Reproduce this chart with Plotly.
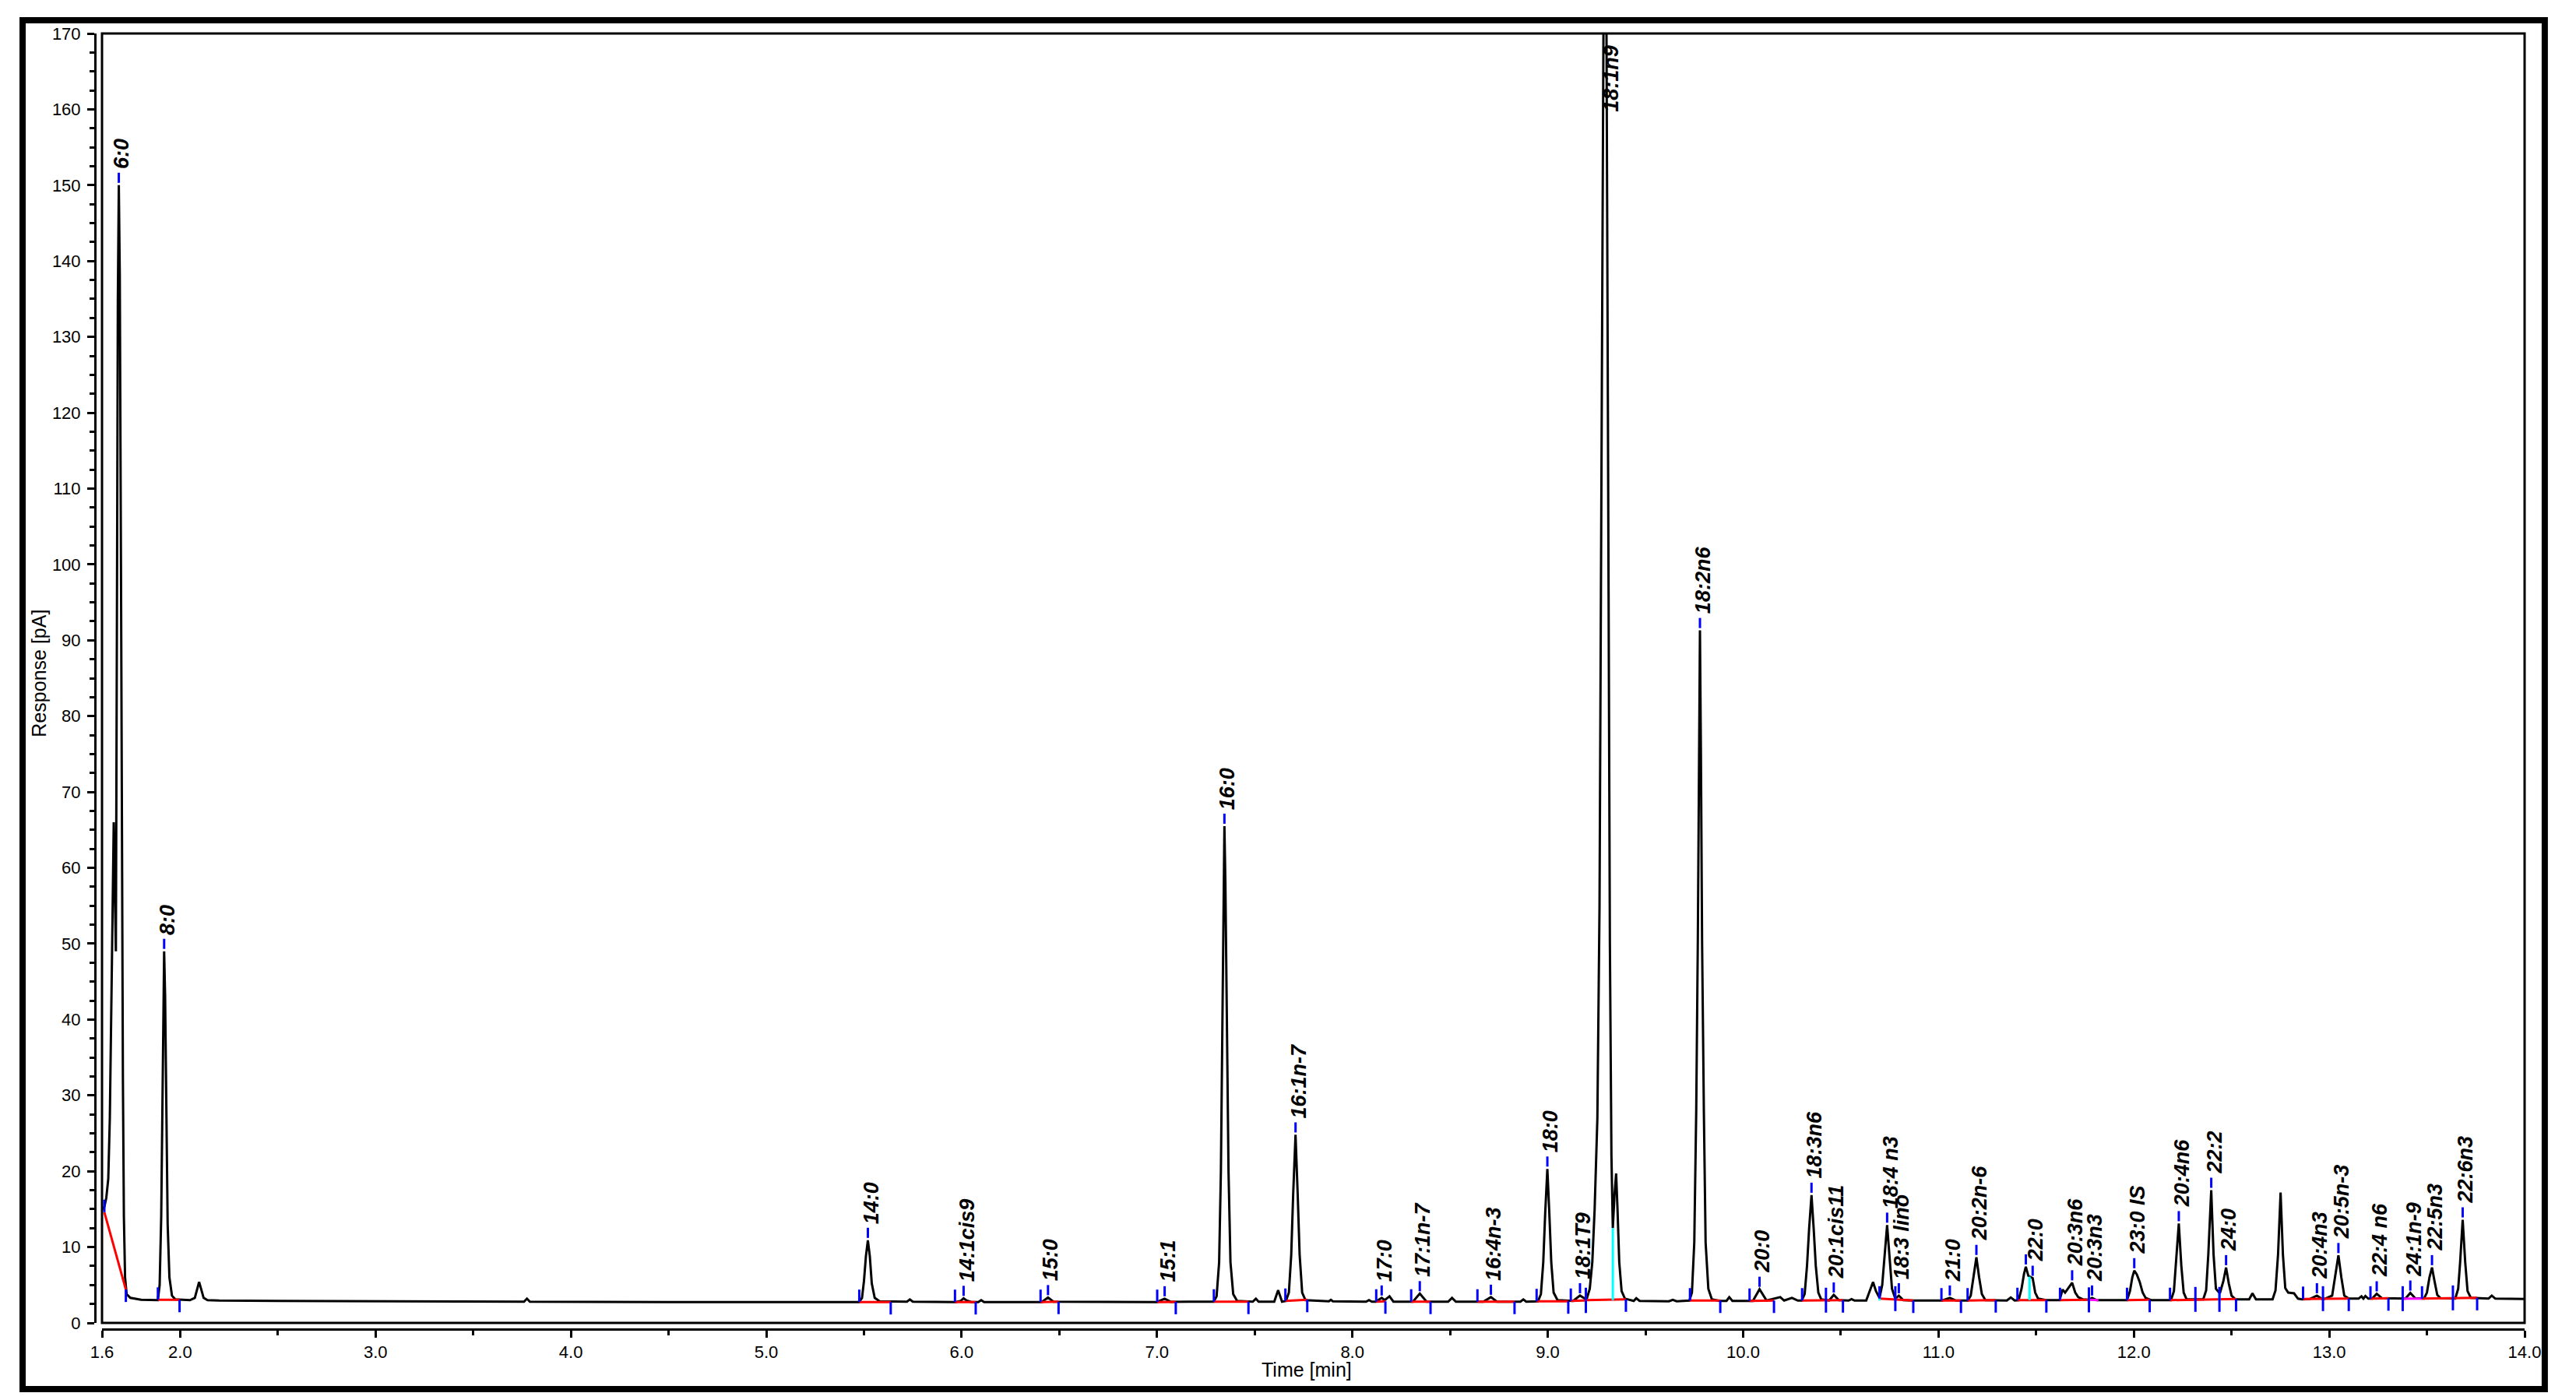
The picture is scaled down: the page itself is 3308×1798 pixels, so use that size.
import plotly.graph_objects as go

# chromatogram signal (time in min, response in pA)
trace_time = [
    1.600, 1.612, 1.622, 1.632, 1.640, 1.647, 1.653, 1.660, 1.666, 1.671,
    1.676, 1.681, 1.686, 1.691, 1.697, 1.702, 1.707, 1.712, 1.718, 1.726,
    1.745, 1.800, 1.886, 1.895, 1.903, 1.909, 1.914, 1.918, 1.923, 1.929,
    1.936, 1.945, 1.958, 1.975, 2.050, 2.075, 2.088, 2.097, 2.107, 2.120,
    2.140, 2.200, 2.500, 3.000, 3.760, 3.775, 3.790, 4.500, 5.475, 5.490,
    5.500, 5.510, 5.520, 5.530, 5.540, 5.555, 5.580, 5.720, 5.735, 5.750,
    5.970, 5.995, 6.010, 6.025, 6.050, 6.085, 6.100, 6.115, 6.410, 6.442,
    6.470, 7.000, 7.039, 7.070, 7.290, 7.305, 7.318, 7.327, 7.335, 7.341,
    7.345, 7.350, 7.357, 7.366, 7.376, 7.390, 7.410, 7.490, 7.506, 7.520,
    7.600, 7.620, 7.640, 7.660, 7.675, 7.687, 7.697, 7.709, 7.720, 7.730,
    7.743, 7.760, 7.880, 7.890, 7.900, 8.070, 8.085, 8.100, 8.120, 8.150,
    8.165, 8.190, 8.210, 8.310, 8.345, 8.380, 8.490, 8.510, 8.530, 8.670,
    8.709, 8.740, 8.860, 8.875, 8.890, 8.950, 8.965, 8.977, 8.987, 8.998,
    9.008, 9.018, 9.030, 9.050, 9.130, 9.165, 9.190, 9.200, 9.215, 9.228,
    9.240, 9.254, 9.265, 9.275, 9.284, 9.292, 9.300, 9.309, 9.318, 9.326,
    9.333, 9.342, 9.350, 9.357, 9.366, 9.378, 9.395, 9.440, 9.453, 9.470,
    9.620, 9.640, 9.660, 9.725, 9.738, 9.750, 9.760, 9.768, 9.774, 9.779,
    9.784, 9.790, 9.799, 9.808, 9.822, 9.840, 9.880, 9.915, 9.929, 9.945,
    10.050, 10.084, 10.120, 10.190, 10.210, 10.250, 10.280, 10.300, 10.315, 10.327,
    10.338, 10.350, 10.361, 10.372, 10.385, 10.400, 10.440, 10.464, 10.490, 10.540,
    10.555, 10.570, 10.630, 10.650, 10.665, 10.680, 10.698, 10.712, 10.722, 10.737,
    10.750, 10.762, 10.779, 10.797, 10.820, 10.870, 11.020, 11.058, 11.090, 11.150,
    11.165, 11.178, 11.194, 11.208, 11.222, 11.240, 11.350, 11.370, 11.390, 11.410,
    11.425, 11.438, 11.447, 11.460, 11.470, 11.482, 11.495, 11.510, 11.550, 11.620,
    11.635, 11.648, 11.665, 11.684, 11.700, 11.715, 11.740, 11.770, 11.786, 11.810,
    11.965, 11.980, 11.992, 12.002, 12.015, 12.030, 12.045, 12.060, 12.090, 12.190,
    12.205, 12.215, 12.230, 12.243, 12.255, 12.270, 12.355, 12.370, 12.381, 12.396,
    12.408, 12.420, 12.440, 12.458, 12.472, 12.486, 12.500, 12.520, 12.590, 12.607,
    12.625, 12.710, 12.725, 12.738, 12.751, 12.763, 12.775, 12.790, 12.820, 12.840,
    12.860, 12.900, 12.937, 12.960, 12.975, 13.015, 13.030, 13.047, 13.062, 13.077,
    13.100, 13.150, 13.165, 13.175, 13.185, 13.200, 13.220, 13.243, 13.270, 13.390,
    13.415, 13.440, 13.485, 13.500, 13.513, 13.526, 13.539, 13.553, 13.570, 13.645,
    13.660, 13.670, 13.683, 13.696, 13.708, 13.725, 13.815, 13.832, 13.850, 14.000,
]
trace_resp = [
    15.0, 15.3, 16.5, 19.0, 27.0, 38.0, 52.0, 66.0, 56.0, 49.0,
    90.0, 135.0, 150.0, 138.0, 100.0, 60.0, 32.0, 14.0, 6.0, 3.8,
    3.3, 3.05, 3.0, 5.0, 14.0, 28.0, 42.0, 49.0, 43.0, 28.0,
    13.0, 6.0, 3.6, 3.1, 3.0, 3.3, 4.6, 5.4, 4.5, 3.3,
    3.0, 2.95, 2.9, 2.85, 2.8, 3.2, 2.8, 2.75, 2.75, 3.3,
    5.5, 8.8, 10.9, 8.8, 5.2, 3.3, 2.85, 2.8, 3.1, 2.8,
    2.75, 2.9, 3.25, 2.95, 2.75, 2.75, 3.0, 2.75, 2.75, 3.35,
    2.8, 2.75, 3.2, 2.78, 2.8, 3.5, 8.0, 20.0, 40.0, 58.0,
    65.5, 58.0, 40.0, 20.0, 8.0, 3.8, 2.9, 2.8, 3.2, 2.8,
    2.8, 4.3, 2.8, 2.9, 4.0, 9.0, 17.0, 24.8, 17.0, 9.0,
    4.0, 3.0, 2.85, 3.05, 2.85, 2.8, 3.0, 2.8, 2.8, 3.3,
    3.0, 3.5, 2.8, 2.8, 3.87, 2.8, 2.8, 3.3, 2.8, 2.8,
    3.4, 2.8, 2.8, 3.1, 2.8, 2.85, 3.8, 8.0, 14.5, 20.3,
    14.5, 8.0, 4.0, 3.0, 2.9, 3.6, 3.2, 3.2, 4.5, 8.0,
    15.0, 27.0, 55.0, 110.0, 175.0, 210.0, 175.0, 110.0, 50.0, 22.0,
    12.5, 17.0, 19.7, 15.0, 8.0, 4.2, 3.2, 2.9, 3.25, 2.9,
    2.85, 3.05, 2.85, 2.95, 4.0, 10.6, 28.0, 50.0, 75.0, 91.3,
    75.0, 50.0, 28.0, 10.6, 4.5, 3.1, 2.9, 2.9, 3.4, 2.9,
    2.9, 4.45, 2.95, 3.4, 2.95, 3.3, 2.95, 2.95, 3.8, 7.5,
    12.5, 16.85, 12.5, 7.5, 4.0, 3.1, 2.95, 3.7, 3.0, 2.95,
    3.15, 2.95, 2.95, 4.3, 5.4, 4.2, 3.3, 5.0, 8.5, 12.9,
    8.5, 4.5, 3.2, 3.6, 3.0, 2.95, 2.95, 3.3, 2.95, 2.95,
    3.6, 6.0, 8.65, 6.0, 3.8, 3.0, 2.95, 3.35, 2.95, 3.0,
    4.5, 6.5, 7.4, 6.2, 6.1, 5.9, 4.0, 3.2, 3.0, 3.0,
    4.4, 4.0, 4.6, 5.3, 4.0, 3.4, 3.1, 3.05, 3.3, 3.0,
    3.0, 4.2, 6.0, 6.9, 6.4, 5.4, 4.0, 3.3, 3.0, 3.0,
    4.2, 7.5, 13.1, 7.5, 4.0, 3.1, 3.1, 4.3, 9.0, 17.5,
    9.0, 4.5, 3.9, 5.5, 7.3, 5.2, 3.6, 3.1, 3.1, 3.9,
    3.1, 3.1, 4.3, 9.0, 17.2, 9.0, 4.6, 4.0, 3.9, 3.2,
    3.1, 3.15, 3.6, 3.2, 3.15, 3.6, 6.0, 8.9, 6.0, 3.6,
    3.2, 3.2, 3.5, 3.2, 3.55, 3.2, 3.2, 3.85, 3.25, 3.2,
    3.95, 3.25, 3.2, 4.0, 6.0, 7.3, 5.5, 3.7, 3.25, 3.2,
    4.5, 8.0, 13.6, 8.0, 4.2, 3.3, 3.2, 3.6, 3.2, 3.15,
]

# identified peaks: name, apex time, apex response
peak_names = [
    "6:0", "8:0", "14:0", "14:1cis9", "15:0", "15:1", "16:0", "16:1n-7",
    "17:0", "17:1n-7", "16:4n-3", "18:0", "18:1T9", "18:2n6", "20:0",
    "18:3n6", "20:1cis11", "18:4 n3", "18:3 lino", "21:0", "20:2n-6", "",
    "22:0", "20:3n6", "20:3n3", "23:0 IS", "20:4n6", "22:2", "24:0",
    "20:4n3", "20:5n-3", "22:4 n6", "24:1n-9", "22:5n3", "22:6n3",
]
peak_times = [
    1.686, 1.918, 5.520, 6.010, 6.442, 7.039, 7.345, 7.709,
    8.150, 8.345, 8.709, 8.998, 9.165, 9.779, 10.084,
    10.350, 10.464, 10.737, 10.797, 11.058, 11.194, 11.447,
    11.482, 11.684, 11.786, 12.002, 12.230, 12.396, 12.472,
    12.937, 13.047, 13.243, 13.415, 13.526, 13.683,
]
peak_heights = [
    150.0, 49.0, 10.9, 3.25, 3.35, 3.2, 65.5, 24.8,
    3.3, 3.87, 3.4, 20.3, 3.6, 91.3, 4.45,
    16.85, 3.7, 12.9, 3.6, 3.3, 8.65, 7.4,
    5.9, 5.3, 3.3, 6.9, 13.1, 17.5, 7.3,
    3.6, 8.9, 3.85, 3.95, 7.3, 13.6,
]
# off-scale main peak
top_peak_name = "18:1n9"
top_peak_time = 9.292

# integration baselines (start / end of each peak group)
base_start_time = [1.612, 1.886, 5.476, 5.966, 6.404, 7.001, 7.291, 7.657, 8.122,
                   8.301, 8.640, 8.943, 9.118, 9.195, 9.728, 10.033, 10.302, 10.698,
                   11.015, 11.149, 11.404, 11.622, 11.965, 12.185, 12.866, 13.211, 13.475]
base_start_resp = [14.6, 3.05, 2.75, 2.75, 2.75, 2.75, 2.8, 2.9, 2.8,
                   2.8, 2.8, 2.85, 2.9, 3.0, 2.95, 2.9, 2.95, 3.2,
                   2.95, 2.95, 3.0, 3.0, 3.0, 3.0, 3.15, 3.2, 3.2]
base_end_time = [1.722, 1.997, 5.637, 6.072, 6.496, 7.096, 7.468, 7.769, 8.169,
                 8.400, 8.830, 9.105, 9.195, 9.400, 9.883, 10.158, 10.511, 10.871,
                 11.115, 11.293, 11.552, 11.770, 12.081, 12.523, 13.100, 13.303, 13.757]
base_end_resp = [4.4, 3.05, 2.75, 2.75, 2.8, 2.78, 2.8, 3.05, 2.85,
                 2.8, 2.8, 2.85, 2.95, 3.1, 2.95, 2.95, 3.0, 2.95,
                 2.95, 3.0, 3.0, 3.05, 3.05, 3.15, 3.2, 3.25, 3.3]
# tangent skim baselines
skim_start_time = [11.770, 13.376]
skim_start_resp = [3.05, 3.2]
skim_end_time = [11.819, 13.475]
skim_end_resp = [3.0, 3.2]
# split points inside peak groups
split_time = [10.424, 10.779, 12.315, 12.438, 12.968, 13.633, 13.376, 11.770]
split_resp = [3.0, 3.2, 3.1, 3.1, 3.2, 3.3, 3.2, 3.05]
# perpendicular drops between fused peaks
drop_time = [9.333, 11.466, 12.438, 10.698]
drop_top = [12.5, 6.1, 3.9, 3.3]
drop_bottom = [3.0, 3.0, 3.0, 2.95]

y_tick_vals = list(range(0, 171, 10))
x_tick_vals = [1.6, 2.0, 3.0, 4.0, 5.0, 6.0, 7.0, 8.0, 9.0, 10.0, 11.0, 12.0, 13.0, 14.0]
x_tick_text = ["1.6", "2.0", "3.0", "4.0", "5.0", "6.0", "7.0", "8.0", "9.0",
               "10.0", "11.0", "12.0", "13.0", "14.0"]
x_minor_vals = [2.5, 3.5, 4.5, 5.5, 6.5, 7.5, 8.5, 9.5, 10.5, 11.5, 12.5, 13.5]

FONT = "Arial, Liberation Sans, Helvetica, sans-serif"
PX = 170 / 1656.0  # response units per screen pixel


def segs(x0s, y0s, x1s, y1s):
    xs, ys = [], []
    for a, b, c, d in zip(x0s, y0s, x1s, y1s):
        xs += [a, c, None]
        ys += [b, d, None]
    return xs, ys


fig = go.Figure()

fig.add_trace(go.Scatter(x=trace_time, y=trace_resp, mode="lines",
                         line=dict(color="black", width=3), hoverinfo="skip"))

bx, by = segs(base_start_time, base_start_resp, base_end_time, base_end_resp)
fig.add_trace(go.Scatter(x=bx, y=by, mode="lines", line=dict(color="#ff0000", width=3)))

sx, sy = segs(skim_start_time, skim_start_resp, skim_end_time, skim_end_resp)
fig.add_trace(go.Scatter(x=sx, y=sy, mode="lines", line=dict(color="#ff00ff", width=3)))

dx, dy = segs(drop_time, drop_top, drop_time, drop_bottom)
fig.add_trace(go.Scatter(x=dx, y=dy, mode="lines", line=dict(color="#00ffff", width=3)))

# blue event ticks: up at start, down at end, both at splits, short mark above apex
tick_len = 16 * PX
ux, uy = segs(base_start_time, base_start_resp, base_start_time,
              [v + tick_len for v in base_start_resp])
ex, ey = segs(base_end_time, base_end_resp, base_end_time,
              [v - tick_len for v in base_end_resp])
px_, py_ = segs(split_time, [v - tick_len for v in split_resp], split_time,
                [v + tick_len for v in split_resp])
ax_, ay_ = segs(peak_times, [h + 3 * PX for h in peak_heights], peak_times,
                [h + 16 * PX for h in peak_heights])
fig.add_trace(go.Scatter(x=ux + ex + px_ + ax_, y=uy + ey + py_ + ay_, mode="lines",
                         line=dict(color="#0000ff", width=3)))

for name, t, h in zip(peak_names, peak_times, peak_heights):
    if not name:
        continue
    fig.add_annotation(x=t, y=h, xref="x", yref="y", text="<b><i>" + name + "</i></b>",
                       textangle=-90, showarrow=False, xanchor="center", yanchor="bottom",
                       yshift=19, xshift=4, font=dict(family=FONT, size=27, color="black"))
fig.add_annotation(x=top_peak_time, y=170, xref="x", yref="y",
                   text="<b><i>" + top_peak_name + "</i></b>", textangle=-90,
                   showarrow=False, xanchor="center", yanchor="top", yshift=-13, xshift=8,
                   font=dict(family=FONT, size=27, color="black"))

# axis titles
fig.add_annotation(x=-0.0232, y=0.506, xref="paper", yref="paper", text="Response [pA]",
                   textangle=-90, showarrow=False, xanchor="center", yanchor="middle",
                   font=dict(family=FONT, size=25, color="black"))
fig.add_annotation(x=0.4988, y=-0.031, xref="paper", yref="paper", text="Time [min]",
                   showarrow=False, xanchor="center", yanchor="middle",
                   font=dict(family=FONT, size=25, color="black"))

# plot box and outer frame
fig.add_shape(type="rect", xref="x domain", yref="y domain", x0=0, x1=1, y0=0, y1=1,
              line=dict(color="black", width=3))
fig.add_shape(type="rect", xref="paper", yref="paper", x0=-0.0298, x1=1.0083,
              y0=-0.0463, y1=1.0102, line=dict(color="black", width=8))

axis_common = dict(
    showline=True, linecolor="black", linewidth=3, ticks="outside", ticklen=9,
    tickwidth=3, tickcolor="black", showgrid=False, zeroline=False,
    tickfont=dict(family=FONT, size=22, color="black"), anchor="free", position=0,
)
fig.update_xaxes(domain=[9 / 3120, 1], range=[1.6, 14.0], tickmode="array",
                 tickvals=x_tick_vals, ticktext=x_tick_text,
                 minor=dict(tickmode="array", tickvals=x_minor_vals, ticks="outside",
                            ticklen=6, tickwidth=3, tickcolor="black"),
                 **axis_common)
fig.update_yaxes(domain=[8 / 1664, 1], range=[0, 170], tickmode="array",
                 tickvals=y_tick_vals, ticklabelstandoff=4,
                 minor=dict(dtick=2.5, tick0=0, ticks="outside", ticklen=6,
                            tickwidth=3, tickcolor="black"),
                 **axis_common)

fig.update_layout(
    width=3308, height=1798, showlegend=False,
    margin=dict(l=114, r=74, t=35, b=99, pad=0),
    paper_bgcolor="white", plot_bgcolor="white",
)

fig.write_html("out.html")
